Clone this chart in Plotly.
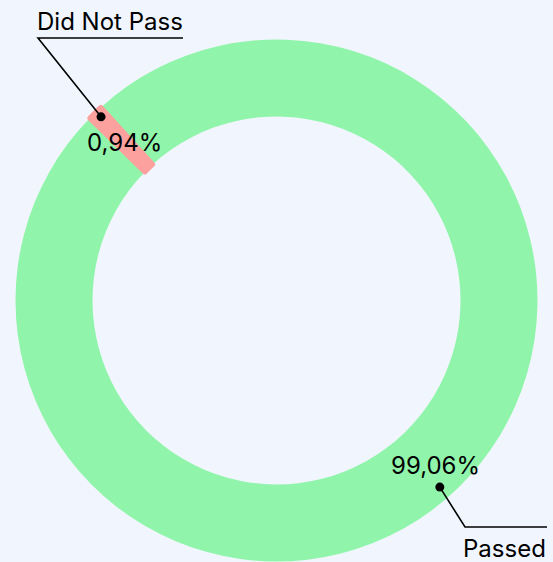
import math
import plotly.graph_objects as go

labels = ["Passed", "Did Not Pass"]
values = [99.06, 0.94]
pct_text = ["99,06%", "0,94%"]
colors = ["#90F5AA", "#FDA19F"]

W, H = 553, 562
BG = "#F1F6FE"
cx, cy = 276.5, 300.5      # pie centre (px)
R_out = 261.0
hole = 0.705
rotation = -42.3
FONT = "Inter"
FS = 24

# slice mid angles (clockwise from 12 o'clock)
total = sum(values)
mids = []
start = rotation
for v in values:
    span = v / total * 360
    mids.append(start + span / 2)
    start += span


def px(r, ang):
    a = math.radians(ang)
    return cx + r * math.sin(a), cy - r * math.cos(a)


def to_paper(x, y):
    return x / W, 1 - y / H


fig = go.Figure()
fig.add_trace(go.Pie(
    labels=labels, values=values, hole=hole, sort=False,
    direction="clockwise", rotation=rotation,
    marker=dict(colors=colors, line=dict(width=[0, 5], color=colors)),
    textinfo="none", hoverinfo="label+percent", showlegend=False,
    domain=dict(x=[(cx - R_out) / W, (cx + R_out) / W],
                y=[(H - cy - R_out) / H, (H - cy + R_out) / H]),
))

# label geometry per slice
label_cfg = [
    dict(dot_r=248, dot_off=2.8, txt_r=229, elbow=(465, 527), end=(547, 527), lab=(504, 548.5)),
    dict(dot_r=254, dot_off=0.3, txt_r=219, elbow=(38, 38), end=(183, 38), lab=(110, 21.5)),
]

shapes = []
annotations = []
for i, cfg in enumerate(label_cfg):
    ang = mids[i] % 360
    dx, dy = px(cfg["dot_r"], ang + cfg["dot_off"])
    tx, ty = px(cfg["txt_r"], ang)
    ex, ey = cfg["elbow"]
    lx, ly = cfg["end"]
    p0 = to_paper(dx, dy); p1 = to_paper(ex, ey); p2 = to_paper(lx, ly)
    shapes.append(dict(type="path", xref="paper", yref="paper", layer="above",
                       path=f"M {p0[0]},{p0[1]} L {p1[0]},{p1[1]} L {p2[0]},{p2[1]}",
                       line=dict(color="#000000", width=1.6)))
    rr = 4.5
    c0 = to_paper(dx - rr, dy + rr); c1 = to_paper(dx + rr, dy - rr)
    shapes.append(dict(type="circle", xref="paper", yref="paper", layer="above",
                       x0=c0[0], y0=c0[1], x1=c1[0], y1=c1[1],
                       fillcolor="#000000", line=dict(width=0)))
    tp = to_paper(tx, ty)
    annotations.append(dict(x=tp[0], y=tp[1], xref="paper", yref="paper",
                            text=pct_text[i], showarrow=False,
                            xanchor="center", yanchor="middle",
                            font=dict(family=FONT, size=FS, color="#000000")))
    lp = to_paper(*cfg["lab"])
    annotations.append(dict(x=lp[0], y=lp[1], xref="paper", yref="paper",
                            text=labels[i], showarrow=False,
                            xanchor="center", yanchor="middle",
                            font=dict(family=FONT, size=FS, color="#000000")))

fig.update_layout(
    width=W, height=H, margin=dict(l=0, r=0, t=0, b=0),
    paper_bgcolor=BG, plot_bgcolor=BG,
    shapes=shapes, annotations=annotations,
    font=dict(family=FONT, size=FS, color="#000000"),
)

fig.write_html(
    "out.html",
    config={"displayModeBar": False},
    post_script="document.body.style.margin='0';document.body.style.overflow='hidden';document.body.style.background='%s';" % BG,
)
